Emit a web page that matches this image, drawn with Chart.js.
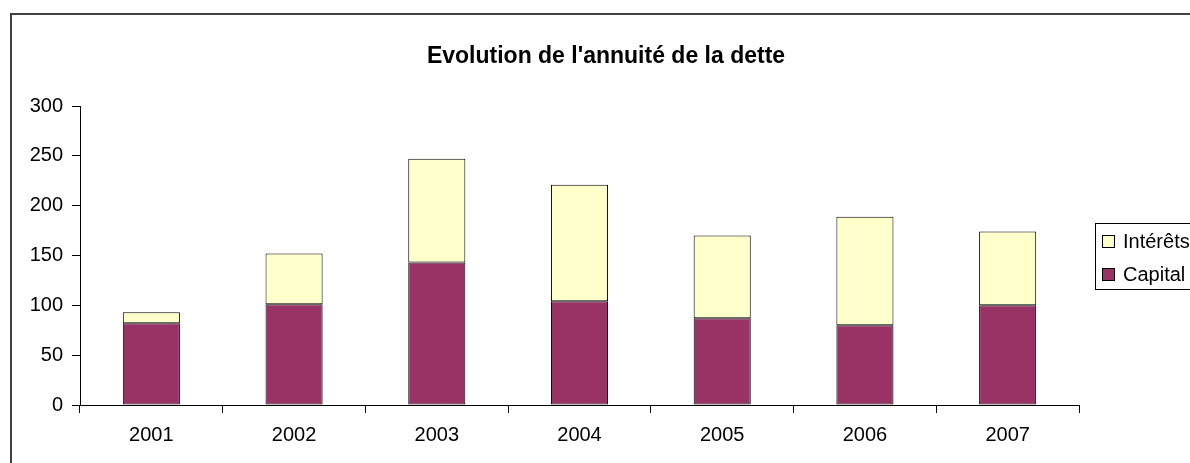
<!DOCTYPE html>
<html>
<head>
<meta charset="utf-8">
<script src="https://cdn.jsdelivr.net/npm/chart.js@4/dist/chart.umd.min.js"></script>
<style>
    body { margin: 0; background: #fff; }
    canvas { display: block; }
</style>
</head>
<body>
<canvas id="annuityChart" width="1190" height="463"></canvas>
<script>
const years = ['2001', '2002', '2003', '2004', '2005', '2006', '2007'];
const capital = [82, 101, 143, 104, 87, 80, 100];
const interets = [11, 51, 104, 117, 83, 109, 74];
const yTicks = [0, 50, 100, 150, 200, 250, 300];

const chartTitle = "Evolution de l'annuité de la dette";
const fontFamily = '"Liberation Sans", Arial, sans-serif';

// frame around the whole chart, plus title and a boxed legend on the right
const frameAndLegend = {
    id: 'frameAndLegend',
    beforeDraw(chart) {
        const ctx = chart.ctx;
        ctx.save();
        ctx.fillStyle = '#fff';
        ctx.fillRect(0, 0, chart.width, chart.height);
        ctx.strokeStyle = '#404040';
        ctx.lineWidth = 2;
        ctx.strokeRect(11, 14, 1190, 480);
        ctx.restore();
    },
    afterDraw(chart) {
        const ctx = chart.ctx;
        ctx.save();
        ctx.fillStyle = '#000';
        ctx.font = 'bold 23px ' + fontFamily;
        ctx.textAlign = 'center';
        ctx.textBaseline = 'alphabetic';
        ctx.fillText(chartTitle, 606, 63);

        // legend box
        ctx.strokeStyle = '#000';
        ctx.lineWidth = 1;
        ctx.strokeRect(1095.5, 223.5, 120, 66);

        const items = chart.data.datasets.slice().reverse();
        ctx.font = '20px ' + fontFamily;
        ctx.textAlign = 'left';
        ctx.textBaseline = 'middle';
        items.forEach((ds, i) => {
            const cy = 241 + i * 33;
            ctx.fillStyle = ds.backgroundColor;
            ctx.fillRect(1102, cy - 6, 12, 12);
            ctx.strokeRect(1102.5, cy - 5.5, 12, 12);
            ctx.fillStyle = '#000';
            ctx.fillText(ds.label, 1123, cy + 1);
        });
        ctx.restore();
    }
};

const data = {
    labels: years,
    datasets: [
        {
            label: 'Capital',
            data: capital,
            backgroundColor: '#993366',
            borderColor: '#000',
            borderWidth: 1,
            borderSkipped: false,
            barPercentage: 0.4,
            categoryPercentage: 1
        },
        {
            label: 'Intérêts',
            data: interets,
            backgroundColor: '#ffffcc',
            borderColor: '#000',
            borderWidth: 1,
            borderSkipped: false,
            barPercentage: 0.4,
            categoryPercentage: 1
        }
    ]
};

const options = {
    responsive: false,
    animation: false,
    layout: {
        padding: {left: 0, top: 106, right: 111, bottom: 0}
    },
    plugins: {
        legend: {display: false},
        title: {display: false},
        tooltip: {enabled: false}
    },
    scales: {
        x: {
            stacked: true,
            border: {display: true, color: '#000', width: 1},
            grid: {
                offset: true,
                drawOnChartArea: false,
                drawTicks: true,
                tickLength: 8,
                tickColor: '#000'
            },
            ticks: {
                color: '#000',
                font: {family: fontFamily, size: 20},
                padding: 10,
                autoSkip: false,
                maxRotation: 0
            },
            afterFit: (scale) => { scale.height = 58; }
        },
        y: {
            stacked: true,
            min: 0,
            max: 300,
            border: {display: true, color: '#000', width: 1},
            grid: {
                drawOnChartArea: false,
                drawTicks: true,
                tickLength: 8,
                tickColor: '#000'
            },
            afterBuildTicks: (scale) => {
                scale.ticks = yTicks.map(v => ({value: v}));
            },
            ticks: {
                color: '#000',
                font: {family: fontFamily, size: 20},
                padding: 9
            },
            afterFit: (scale) => { scale.width = 80; }
        }
    }
};

new Chart(document.getElementById('annuityChart'), {
    type: 'bar',
    data: data,
    options: options,
    plugins: [frameAndLegend]
});
</script>
</body>
</html>
